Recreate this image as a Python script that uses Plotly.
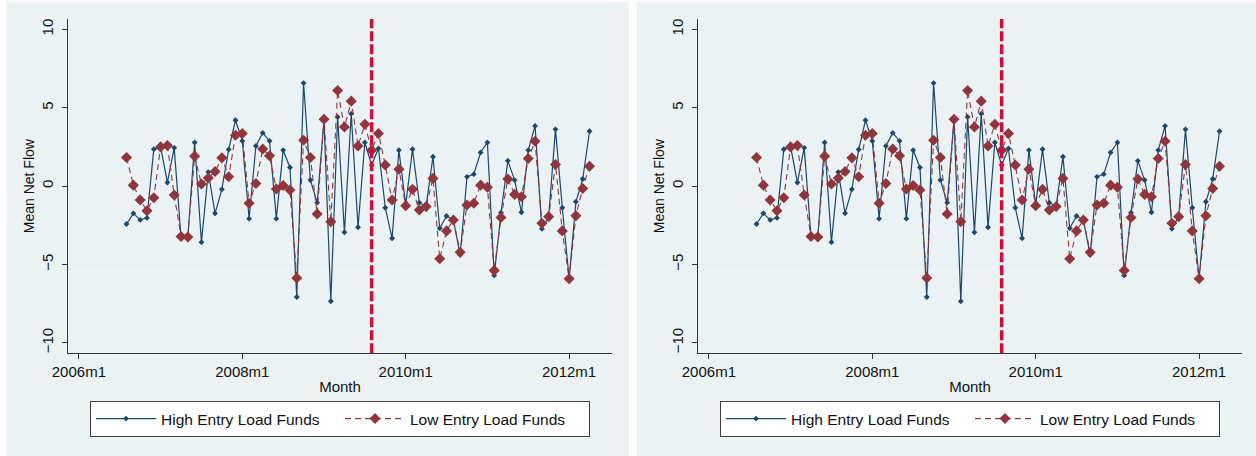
import plotly.graph_objects as go

# ---------------- data ----------------
months = [
    "2006m8", "2006m9", "2006m10", "2006m11", "2006m12",
    "2007m1", "2007m2", "2007m3", "2007m4", "2007m5", "2007m6",
    "2007m7", "2007m8", "2007m9", "2007m10", "2007m11", "2007m12",
    "2008m1", "2008m2", "2008m3", "2008m4", "2008m5", "2008m6",
    "2008m7", "2008m8", "2008m9", "2008m10", "2008m11", "2008m12",
    "2009m1", "2009m2", "2009m3", "2009m4", "2009m5", "2009m6",
    "2009m7", "2009m8", "2009m9", "2009m10", "2009m11", "2009m12",
    "2010m1", "2010m2", "2010m3", "2010m4", "2010m5", "2010m6",
    "2010m7", "2010m8", "2010m9", "2010m10", "2010m11", "2010m12",
    "2011m1", "2011m2", "2011m3", "2011m4", "2011m5", "2011m6",
    "2011m7", "2011m8", "2011m9", "2011m10", "2011m11", "2011m12",
    "2012m1", "2012m2", "2012m3", "2012m4",
]

high_entry = [
    -2.42, -1.74, -2.16, -2.03, 2.35, 2.5, 0.23, 2.44, -3.25, -3.25,
    2.78, -3.58, 0.89, -1.74, -0.21, 2.33, 4.2, 2.88, -2.08, 2.56,
    3.39, 2.88, -2.08, 2.29, 1.19, -7.08, 6.57, 0.38, -1.06, 4.2,
    -7.35, 4.41, -2.95, 4.62, -2.63, 2.78, 1.34, 2.4, -1.38, -3.33,
    2.29, -1.2, 2.35, -1.06, -1.3, 1.87, -2.69, -1.91, -2.15, -4.39,
    0.59, 0.76, 2.14, 2.78, -5.7, -1.7, 1.61, 0.38, -1.67, 2.29,
    3.84, -2.73, -1.95, 3.62, -1.38, -5.9, -1.0, 0.45, 3.5,
]

low_entry = [
    1.82, 0.06, -0.89, -1.57, -0.74, 2.5, 2.59, -0.57, -3.22, -3.25,
    1.91, 0.13, 0.52, 0.93, 1.8, 0.59, 3.24, 3.35, -1.1, 0.17,
    2.37, 1.93, -0.19, 0.04, -0.25, -5.87, 2.92, 1.82, -1.78, 4.26,
    -2.27, 6.1, 3.77, 5.42, 2.56, 3.94, 2.29, 3.35, 1.34, -0.89,
    1.08, -1.25, -0.21, -1.53, -1.31, 0.49, -4.64, -2.86, -2.16, -4.22,
    -1.21, -1.1, 0.06, -0.08, -5.38, -2.01, 0.45, -0.53, -0.68, 1.76,
    2.86, -2.37, -1.95, 1.38, -2.86, -5.91, -1.89, -0.15, 1.27,
]

event_month = "2009m8"
x_tick_labels = ["2006m1", "2008m1", "2010m1", "2012m1"]
y_tick_values = [-10, -5, 0, 5, 10]


def month_index(label):
    yr, mo = label.split("m")
    return (int(yr) - 2006) * 12 + int(mo) - 1


x_vals = [month_index(m) for m in months]
x_ticks = [month_index(m) for m in x_tick_labels]
x_event = month_index(event_month)

# ---------------- style ----------------
W, H = 1256, 456
FONT = "Liberation Sans, Arial, sans-serif"
NAVY = "#1a476f"
MAROON = "#90353b"
VLINE = "#cc0f3a"
PANEL_BG = "#eaf2f3"
GRID = "#e6eef1"
AXIS = "#333333"

fig = go.Figure()

panels = [
    dict(xa="x", ya="y", legend="legend", dom=(68, 612)),
    dict(xa="x2", ya="y2", legend="legend2", dom=(698, 1242)),
]

for p in panels:
    fig.add_trace(go.Scatter(
        x=x_vals, y=high_entry, mode="lines+markers",
        name="High Entry Load Funds",
        line=dict(color=NAVY, width=1.2),
        marker=dict(symbol="diamond", size=4.5, color=NAVY),
        xaxis=p["xa"], yaxis=p["ya"], legend=p["legend"],
    ))
    fig.add_trace(go.Scatter(
        x=x_vals, y=low_entry, mode="lines+markers",
        name="Low Entry Load Funds",
        line=dict(color=MAROON, width=1.1, dash="6px,4px"),
        marker=dict(symbol="diamond", size=8.5, color=MAROON),
        xaxis=p["xa"], yaxis=p["ya"], legend=p["legend"],
    ))
    # vertical reference line at the event month
    fig.add_trace(go.Scatter(
        x=[x_event, x_event], y=[-10.67, 10.66], mode="lines",
        line=dict(color=VLINE, width=3.5, dash="10px,3px"),
        showlegend=False, hoverinfo="skip",
        xaxis=p["xa"], yaxis=p["ya"],
    ))

plot_top = 19
plot_bot = 353.3
ydom = [1 - plot_bot / H, 1 - plot_top / H]

axis_common = dict(
    showline=True, linecolor=AXIS, linewidth=1.2,
    ticks="outside", ticklen=5, tickcolor=AXIS, tickwidth=1,
    tickfont=dict(family=FONT, size=15, color="#111"),
    zeroline=False, automargin=False,
)

layout = dict(
    width=W, height=H,
    margin=dict(l=0, r=0, t=0, b=0, autoexpand=False),
    paper_bgcolor="white",
    plot_bgcolor="white",
    font=dict(family=FONT, size=15, color="#111"),
    showlegend=True,
    shapes=[],
)

for i, p in enumerate(panels):
    sfx = "" if i == 0 else str(i + 1)
    x0, x1 = p["dom"]
    layout["xaxis" + sfx] = dict(
        axis_common,
        domain=[x0 / W, x1 / W], anchor="y" + sfx,
        range=[-1.6, 78.3],
        tickmode="array", tickvals=x_ticks, ticktext=x_tick_labels,
        showgrid=False,
        title=dict(text="Month", font=dict(family=FONT, size=15, color="#111"), standoff=2),
    )
    layout["yaxis" + sfx] = dict(
        axis_common,
        domain=ydom, anchor="x" + sfx,
        range=[-10.67, 10.66],
        tickmode="array", tickvals=y_tick_values,
        tickangle=-90, ticklabelstandoff=3,
        showgrid=True, gridcolor=GRID, gridwidth=1,
        title=dict(text="Mean Net Flow", font=dict(family=FONT, size=14, color="#111"), standoff=0),
    )
    cx = (x0 + x1) / 2 / W
    layout["legend" if i == 0 else "legend2"] = dict(
        orientation="h", x=cx, xanchor="center",
        y=1 - 419 / H, yanchor="middle",
        bgcolor="white", bordercolor="#404040", borderwidth=1,
        font=dict(family=FONT, size=15.5, color="#111"),
        itemwidth=60, entrywidth=174,
        traceorder="normal",
    )

# panel backgrounds (graph regions)
layout["shapes"] = [
    dict(type="rect", xref="paper", yref="paper", x0=7 / W, x1=629 / W,
         y0=0, y1=1 - 2 / H, fillcolor=PANEL_BG, line=dict(width=0), layer="below"),
    dict(type="rect", xref="paper", yref="paper", x0=637 / W, x1=1,
         y0=0, y1=1 - 2 / H, fillcolor=PANEL_BG, line=dict(width=0), layer="below"),
]

fig.update_layout(**layout)
fig.write_html("out.html")
